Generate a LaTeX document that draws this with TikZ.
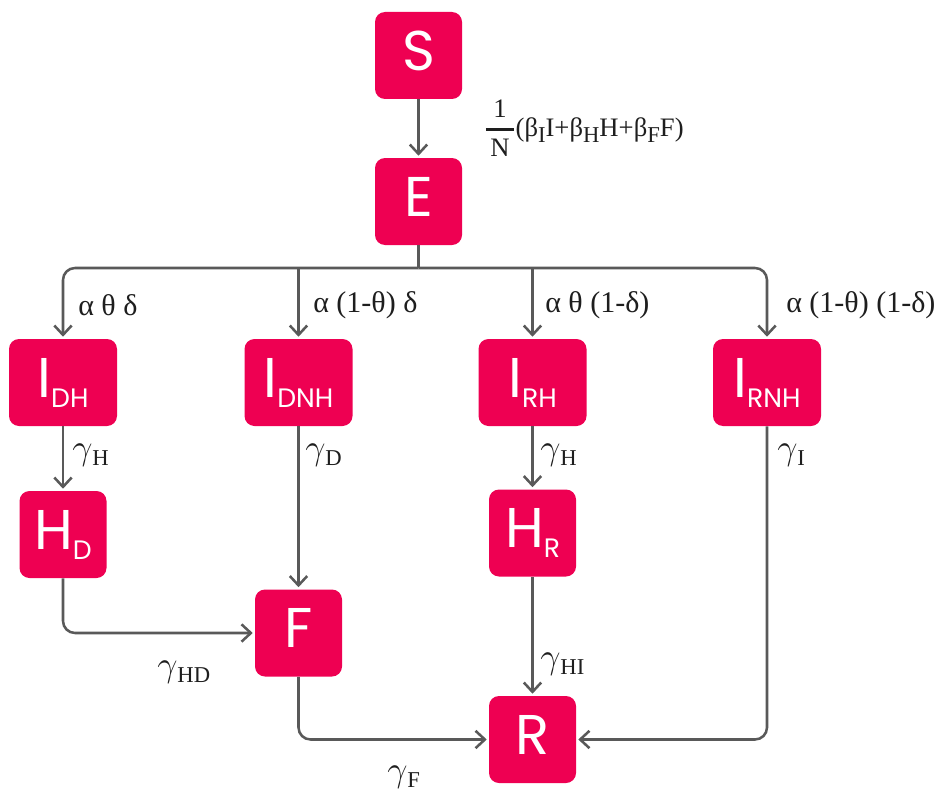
\documentclass[tikz,border=0pt]{standalone}
\usepackage{amsmath}
\usepackage{graphicx}
\usepackage{fontspec}
\setmainfont{Liberation Serif}
\newfontfamily\boxfont{Poppins}
\usetikzlibrary{arrows.meta}
\definecolor{boxRed}{RGB}{238, 0, 82}
\definecolor{flowGray}{RGB}{89, 89, 89}
\definecolor{textDark}{RGB}{30, 30, 30}
\newcommand{\comp}[2]{{\boxfont\fontsize{42}{42}\selectfont #1\raisebox{-7.5pt}{\fontsize{20}{20}\selectfont #2}}}
\newcommand{\rate}[2]{#1\raisebox{-5pt}{\fontsize{17}{17}\selectfont #2}}
\newcommand{\gam}{\scalebox{1.3}{$\gamma$}}

\begin{document}
\begin{tikzpicture}[x=0.75pt, y=-0.75pt,
    box/.style={fill=boxRed, text=white, rounded corners=7.5pt,
      minimum width=65.25pt, minimum height=65.25pt, inner sep=0pt},
    wide/.style={minimum width=81pt},
    link/.style={draw=flowGray, line width=1.9pt},
    flow/.style={link, -{Straight Barb[length=7pt, width=13pt]}, shorten >=1.5pt},
    lbl/.style={inner sep=0pt, anchor=west, text=textDark, font=\fontsize{22.5}{22.5}\selectfont}]
  \useasboundingbox (0,0) rectangle (946,792);
  % compartments
  \node[box] (S) at (418.5,55.5) {\comp{S}{}};
  \node[box] (E) at (418.5,201.5) {\comp{E}{}};
  \node[box, wide] (IDH) at (63,382.5) {\comp{I}{DH}};
  \node[box, wide] (IDNH) at (298.5,382.5) {\comp{I}{DNH}};
  \node[box, wide] (IRH) at (532.5,382.5) {\comp{I}{RH}};
  \node[box, wide] (IRNH) at (767,382.5) {\comp{I}{RNH}};
  \node[box] (HD) at (63,534.5) {\comp{H}{D}};
  \node[box] (F) at (298.5,633) {\comp{F}{}};
  \node[box] (HR) at (532.5,533) {\comp{H}{R}};
  \node[box] (R) at (532.5,739.5) {\comp{R}{}};
  \coordinate (bus) at (418.5,268);

  % flows
  \draw[flow] (S) -- (E);
  \draw[link] (E) -- (bus);
  \draw[flow, rounded corners=9pt] (bus) -| (IDH);
  \draw[flow] (bus -| IDNH) -- (IDNH);
  \draw[flow] (bus -| IRH) -- (IRH);
  \draw[flow, rounded corners=9pt] (bus) -| (IRNH);
  \draw[flow] (IDH) -- (HD);
  \draw[flow] (IDNH) -- (F);
  \draw[flow] (IRH) -- (HR);
  \draw[flow] (HR) -- (R);
  \draw[flow, rounded corners=9pt] (HD) |- (F);
  \draw[flow, rounded corners=9pt] (F) |- (R);
  \draw[flow, rounded corners=9pt] (IRNH) |- (R);

  % rates
  \node[lbl, font=\fontsize{20}{20}\selectfont] (rSE) at (484,128)
    {$\genfrac{}{}{2pt}{0}{\text{1}}{\text{\,N\,}}$(β\rate{}{I}I+β\rate{}{H}H+β\rate{}{F}F)};
  \node[lbl] (aDH) at (78,305) {α θ δ};
  \node[lbl] (aDNH) at (313,305) {α (1-θ) δ};
  \node[lbl] (aRH) at (545,305) {α θ (1-δ)};
  \node[lbl] (aRNH) at (786,305) {α (1-θ) (1-δ)};
  \node[lbl] (gH1) at (72,455) {\rate{\gam}{H}};
  \node[lbl] (gD) at (305,455) {\rate{\gam}{D}};
  \node[lbl] (gH2) at (540,455) {\rate{\gam}{H}};
  \node[lbl] (gI) at (777,455) {\rate{\gam}{I}};
  \node[lbl] (gHD) at (157,672) {\rate{\gam}{HD}};
  \node[lbl] (gHI) at (540,664) {\rate{\gam}{HI}};
  \node[lbl] (gF) at (387,777) {\rate{\gam}{F}};
\end{tikzpicture}
\end{document}
